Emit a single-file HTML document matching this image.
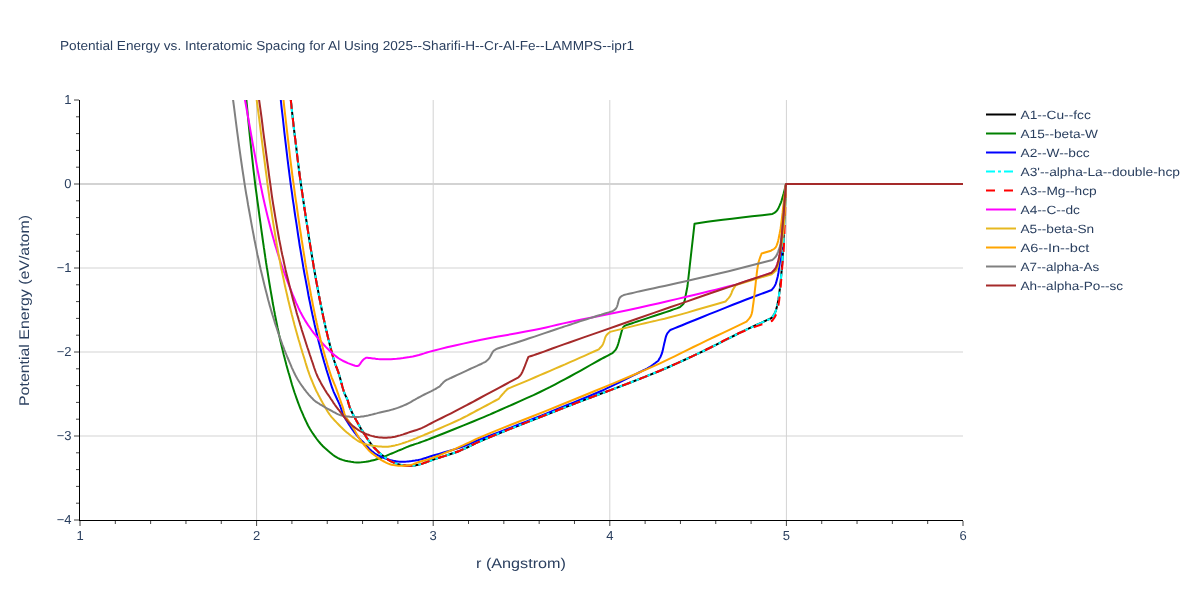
<!DOCTYPE html><html><head><meta charset="utf-8"><style>html,body{margin:0;padding:0;background:#fff;}svg{display:block;text-rendering:geometricPrecision;will-change:transform;font-family:"Liberation Sans",sans-serif;}</style></head><body>
<svg width="1200" height="600" viewBox="0 0 1200 600">
<rect width="1200" height="600" fill="#fff"/>
<line x1="256.6" y1="100" x2="256.6" y2="520" stroke="#d3d3d3" stroke-width="1"/>
<line x1="433.2" y1="100" x2="433.2" y2="520" stroke="#d3d3d3" stroke-width="1"/>
<line x1="609.8" y1="100" x2="609.8" y2="520" stroke="#d3d3d3" stroke-width="1"/>
<line x1="786.4" y1="100" x2="786.4" y2="520" stroke="#d3d3d3" stroke-width="1"/>
<line x1="80" y1="268.0" x2="963" y2="268.0" stroke="#d3d3d3" stroke-width="1"/>
<line x1="80" y1="352.0" x2="963" y2="352.0" stroke="#d3d3d3" stroke-width="1"/>
<line x1="80" y1="436.0" x2="963" y2="436.0" stroke="#d3d3d3" stroke-width="1"/>
<line x1="80" y1="184.0" x2="963" y2="184.0" stroke="#d3d3d3" stroke-width="2"/>
<clipPath id="cp"><rect x="80" y="100" width="883" height="420"/></clipPath><g clip-path="url(#cp)" fill="none" stroke-linejoin="round">
<polyline points="290.0,90.0 290.1,91.6 290.2,93.0 290.3,94.4 290.4,96.0 290.6,97.8 290.8,100.0 291.7,108.3 292.9,119.5 294.4,132.6 296.1,146.1 297.6,159.0 299.0,170.0 299.9,176.8 300.8,183.3 301.7,189.6 302.6,195.4 303.3,200.5 304.0,205.0 304.3,207.0 304.5,208.6 304.7,210.1 305.0,211.6 305.2,213.1 305.5,215.0 306.0,218.6 306.7,222.7 307.4,227.2 308.1,231.7 308.7,236.1 309.4,240.0 309.8,242.7 310.2,245.3 310.6,247.7 311.0,250.1 311.4,252.5 311.8,255.0 312.2,257.4 312.6,259.8 313.0,262.2 313.4,264.6 313.8,267.2 314.3,270.0 315.1,274.5 316.0,279.6 317.0,285.0 318.0,290.4 319.0,295.5 319.8,300.0 320.4,302.8 320.9,305.4 321.4,307.8 321.9,310.2 322.4,312.6 322.9,315.0 323.4,317.5 324.0,320.0 324.5,322.5 325.1,325.0 325.6,327.5 326.2,330.0 326.8,332.5 327.4,335.0 328.0,337.5 328.6,340.0 329.3,342.5 329.9,345.0 330.5,347.5 331.2,350.0 331.8,352.5 332.5,355.0 333.2,357.5 333.9,360.0 334.8,362.5 335.6,365.0 336.5,367.4 337.5,369.9 338.4,372.4 339.2,375.0 340.0,377.8 340.8,380.8 341.6,383.8 342.4,386.8 343.2,389.5 344.0,392.0 344.6,393.5 345.2,394.9 345.8,396.2 346.4,397.4 347.0,398.7 347.5,400.0 348.0,401.3 348.3,402.6 348.7,404.0 349.1,405.3 349.5,406.6 350.0,408.0 350.7,409.6 351.5,411.3 352.3,413.0 353.2,414.7 354.1,416.4 355.0,418.0 355.8,419.5 356.6,421.1 357.5,422.6 358.3,424.1 359.2,425.5 360.0,427.0 360.8,428.4 361.6,429.7 362.5,431.1 363.3,432.4 364.2,433.7 365.0,435.0 365.8,436.3 366.6,437.6 367.5,438.8 368.3,440.1 369.1,441.3 370.0,442.5 370.8,443.6 371.6,444.6 372.5,445.6 373.3,446.6 374.1,447.6 375.0,448.5 375.8,449.3 376.6,450.1 377.4,450.9 378.2,451.7 379.0,452.5 380.0,453.3 381.4,454.5 383.0,455.8 384.7,457.2 386.5,458.5 388.2,459.7 390.0,460.8 391.6,461.6 393.3,462.4 394.9,463.1 396.6,463.6 398.3,464.2 400.0,464.6 401.6,465.0 403.3,465.3 405.0,465.5 406.7,465.7 408.3,465.8 410.0,465.8 411.7,465.7 413.3,465.6 415.0,465.4 416.7,465.1 418.3,464.8 420.0,464.4 421.6,463.9 423.2,463.4 424.7,462.8 426.3,462.2 428.0,461.5 430.0,460.8 434.1,459.4 439.0,457.8 444.4,456.1 449.9,454.3 455.2,452.5 460.0,450.7 463.4,449.2 466.5,447.8 469.4,446.3 472.5,444.8 475.9,443.1 480.0,441.3 490.1,437.0 502.3,432.0 516.1,426.6 530.7,420.8 545.5,415.0 560.0,409.3 576.5,402.9 594.0,396.3 611.8,389.6 629.2,383.0 645.5,376.6 660.0,370.7 668.7,367.0 676.8,363.4 684.3,360.0 691.5,356.7 698.5,353.3 705.5,350.0 711.6,347.0 717.4,344.1 723.1,341.2 728.8,338.3 734.4,335.5 740.0,332.7 745.3,330.2 750.6,327.7 755.9,325.2 761.2,322.8 766.4,320.4 771.7,318.0 772.3,317.1 772.8,316.3 773.4,315.5 774.0,314.6 774.5,313.7 775.0,312.7 775.6,311.3 776.1,309.9 776.5,308.3 776.9,306.7 777.3,305.0 777.7,303.3 778.1,301.3 778.5,299.2 778.8,297.0 779.1,294.7 779.4,292.4 779.7,290.0 780.1,286.9 780.4,283.6 780.8,280.3 781.1,276.8 781.4,273.4 781.7,270.0 782.0,266.8 782.2,263.8 782.4,260.7 782.6,257.5 782.8,254.0 783.0,250.0 783.5,241.2 783.9,230.8 784.4,219.4 785.0,207.4 785.5,195.4 786.0,184.0 963.0,184.0" stroke="#000000" stroke-width="2" />
<polyline points="245.7,90.0 245.8,91.6 245.9,93.0 246.0,94.4 246.1,96.0 246.2,97.8 246.4,100.0 247.2,108.3 248.2,119.5 249.5,132.6 250.9,146.1 252.3,159.0 253.5,170.0 254.3,176.5 255.0,182.6 255.7,188.3 256.5,193.8 257.2,199.3 258.0,205.0 258.8,211.0 259.6,217.2 260.5,223.4 261.3,229.4 262.1,235.0 262.8,240.0 263.2,242.9 263.6,245.5 263.9,247.9 264.3,250.2 264.6,252.6 265.0,255.0 265.3,257.4 265.7,259.8 266.0,262.2 266.4,264.6 266.8,267.2 267.3,270.0 268.0,274.5 268.8,279.6 269.7,285.0 270.6,290.4 271.5,295.5 272.3,300.0 272.7,302.8 273.2,305.4 273.7,307.8 274.1,310.2 274.6,312.6 275.0,315.0 275.5,317.5 276.0,320.0 276.5,322.5 277.0,325.0 277.5,327.5 278.1,330.0 278.6,332.5 279.1,335.0 279.7,337.5 280.2,340.0 280.8,342.5 281.4,345.0 282.0,347.5 282.6,350.0 283.2,352.5 283.8,355.0 284.5,357.5 285.1,360.0 285.8,362.5 286.4,365.0 287.1,367.5 287.8,370.0 288.5,372.5 289.3,375.0 290.0,377.5 290.7,380.0 291.4,382.5 292.1,385.0 292.9,387.5 293.7,390.0 294.5,392.5 295.4,395.0 296.3,397.6 297.2,400.1 298.1,402.6 299.0,405.0 299.9,407.3 300.8,409.6 301.8,411.9 302.8,414.2 303.7,416.4 304.7,418.5 305.5,420.3 306.4,422.1 307.2,423.8 308.0,425.5 309.0,427.2 310.0,429.0 311.4,431.3 313.0,433.7 314.7,436.1 316.4,438.5 318.2,440.9 320.0,443.0 321.6,444.8 323.2,446.5 324.9,448.1 326.6,449.6 328.3,451.1 330.0,452.5 331.6,453.8 333.1,455.0 334.7,456.1 336.4,457.2 338.1,458.1 340.0,459.0 342.5,459.9 345.3,460.7 348.1,461.3 351.1,461.8 354.0,462.2 356.7,462.4 359.0,462.4 361.3,462.3 363.6,462.1 365.8,461.8 367.9,461.4 370.0,461.0 371.8,460.6 373.5,460.2 375.1,459.8 376.7,459.3 378.4,458.8 380.0,458.3 381.7,457.7 383.4,457.0 385.0,456.3 386.7,455.6 388.3,454.9 390.0,454.2 391.7,453.5 393.3,452.8 395.0,452.1 396.7,451.4 398.3,450.7 400.0,450.0 401.7,449.3 403.3,448.6 405.0,447.8 406.7,447.1 408.3,446.5 410.0,445.8 411.7,445.2 413.3,444.7 415.0,444.1 416.7,443.6 418.3,443.1 420.0,442.5 421.6,441.9 423.1,441.4 424.5,440.9 426.1,440.3 427.9,439.6 430.0,438.8 436.4,436.2 444.7,433.0 454.0,429.2 463.6,425.4 472.5,421.8 480.0,418.7 483.8,417.1 487.1,415.7 490.2,414.4 493.2,413.0 496.4,411.6 500.0,410.0 505.9,407.4 512.6,404.5 519.5,401.4 526.6,398.2 533.5,395.1 540.0,392.0 545.3,389.4 550.4,386.9 555.3,384.3 560.2,381.7 565.1,379.1 570.0,376.5 575.1,373.7 580.3,370.8 585.5,367.9 590.5,365.0 595.2,362.3 599.4,360.0 601.9,358.7 604.1,357.5 606.3,356.3 608.3,355.3 610.4,354.2 612.5,353.1 613.1,352.4 613.8,351.8 614.4,351.1 615.1,350.4 615.7,349.6 616.2,348.8 617.0,347.2 617.7,345.4 618.3,343.5 618.9,341.4 619.4,339.4 620.0,337.5 620.5,335.7 621.0,333.8 621.5,331.9 622.0,330.2 622.5,328.7 623.1,327.5 623.4,327.1 623.7,326.7 624.0,326.4 624.4,326.2 624.7,325.9 625.0,325.6 627.4,324.8 629.8,324.0 632.2,323.2 634.6,322.4 637.2,321.5 640.0,320.6 644.6,319.1 649.8,317.4 655.4,315.5 660.8,313.8 665.8,312.1 670.0,310.7 671.9,310.0 673.6,309.4 675.2,308.9 676.7,308.4 678.1,307.8 679.7,307.3 680.4,306.7 681.1,306.1 681.8,305.4 682.5,304.8 683.2,304.1 683.7,303.3 684.2,302.2 684.6,300.9 684.9,299.6 685.2,298.1 685.4,296.7 685.7,295.3 686.0,293.8 686.3,292.3 686.6,290.7 686.9,289.1 687.2,287.6 687.5,286.0 694.5,223.8 697.8,223.3 700.9,222.8 704.1,222.3 707.4,221.8 711.0,221.3 715.0,220.8 722.9,219.8 732.0,218.7 741.8,217.5 752.1,216.3 762.4,215.2 772.3,214.0 773.0,213.6 773.7,213.2 774.4,212.8 775.0,212.4 775.7,211.9 776.3,211.3 777.1,210.4 777.8,209.2 778.5,208.0 779.1,206.7 779.7,205.4 780.3,204.0 781.0,202.3 781.6,200.6 782.1,198.8 782.7,196.9 783.2,195.1 783.7,193.3 784.1,191.7 784.5,190.2 784.9,188.6 785.3,187.1 785.6,185.5 786.0,184.0 963.0,184.0" stroke="#008000" stroke-width="2" />
<polyline points="279.9,90.0 280.1,91.6 280.2,93.0 280.3,94.4 280.5,96.0 280.6,97.8 280.8,100.0 281.7,108.3 283.0,119.5 284.4,132.6 286.0,146.1 287.5,159.0 288.9,170.0 289.7,176.5 290.5,182.6 291.3,188.3 292.1,193.8 292.8,199.3 293.7,205.0 294.5,211.0 295.4,217.2 296.4,223.4 297.3,229.4 298.1,235.0 298.9,240.0 299.3,242.9 299.7,245.5 300.1,247.9 300.5,250.2 300.9,252.6 301.3,255.0 301.7,257.4 302.1,259.8 302.5,262.2 302.9,264.6 303.3,267.2 303.8,270.0 304.6,274.5 305.6,279.6 306.6,285.0 307.6,290.4 308.5,295.5 309.4,300.0 310.0,302.8 310.5,305.4 311.0,307.8 311.5,310.2 312.0,312.6 312.5,315.0 313.1,317.5 313.6,320.0 314.2,322.5 314.7,325.0 315.3,327.5 315.9,330.0 316.5,332.5 317.1,335.0 317.7,337.5 318.3,340.0 318.9,342.5 319.6,345.0 320.2,347.5 320.9,350.0 321.5,352.5 322.2,355.0 322.9,357.5 323.6,360.0 324.3,362.5 325.1,365.0 325.8,367.5 326.5,370.0 327.3,372.5 328.1,375.0 328.9,377.5 329.7,380.1 330.5,382.7 331.3,385.2 332.1,387.7 333.0,390.0 333.7,391.8 334.5,393.6 335.3,395.3 336.1,397.0 336.8,398.5 337.5,400.0 338.0,401.0 338.4,401.9 338.8,402.8 339.2,403.7 339.6,404.6 340.0,405.5 340.4,406.6 340.8,407.8 341.2,409.0 341.7,410.2 342.1,411.4 342.5,412.5 342.9,413.5 343.3,414.4 343.7,415.2 344.1,416.1 344.5,417.0 345.0,418.0 345.7,419.3 346.5,420.6 347.4,422.0 348.2,423.3 349.1,424.7 350.0,426.0 350.8,427.2 351.6,428.4 352.5,429.6 353.3,430.7 354.1,431.9 355.0,433.0 355.8,434.0 356.6,435.1 357.5,436.1 358.3,437.1 359.1,438.1 360.0,439.0 360.8,439.9 361.7,440.7 362.5,441.5 363.3,442.3 364.2,443.2 365.0,444.0 365.8,444.9 366.7,445.9 367.5,446.8 368.3,447.7 369.1,448.7 370.0,449.5 370.8,450.2 371.6,451.0 372.5,451.6 373.3,452.3 374.1,452.9 375.0,453.5 375.8,454.0 376.6,454.5 377.4,454.9 378.2,455.4 379.1,455.8 380.0,456.2 381.5,456.9 383.1,457.6 384.8,458.3 386.5,458.9 388.3,459.5 390.0,460.0 391.7,460.4 393.3,460.8 395.0,461.1 396.7,461.4 398.3,461.6 400.0,461.7 401.7,461.8 403.3,461.8 405.0,461.7 406.7,461.6 408.3,461.4 410.0,461.2 411.7,461.1 413.3,460.8 415.0,460.6 416.7,460.3 418.3,460.0 420.0,459.6 421.6,459.2 423.1,458.7 424.7,458.2 426.3,457.7 428.0,457.1 430.0,456.5 434.1,455.3 439.0,453.9 444.4,452.3 449.9,450.7 455.2,449.1 460.0,447.5 463.5,446.2 466.7,445.0 469.8,443.7 473.0,442.4 476.3,441.0 480.0,439.5 485.9,437.2 492.3,434.7 499.1,432.1 506.2,429.4 513.2,426.7 520.0,424.0 526.7,421.4 533.3,418.7 540.0,416.1 546.7,413.4 553.3,410.7 560.0,408.0 566.8,405.2 573.9,402.4 580.9,399.5 587.7,396.7 594.1,394.0 600.0,391.5 603.8,389.8 607.2,388.2 610.5,386.7 613.6,385.1 616.8,383.6 620.0,382.0 623.4,380.3 626.9,378.6 630.4,376.8 633.8,375.1 637.1,373.5 640.0,372.0 641.9,371.1 643.6,370.2 645.3,369.4 646.9,368.6 648.5,367.7 650.0,366.8 651.5,365.8 652.9,364.8 654.2,363.8 655.6,362.8 656.9,361.7 658.3,360.7 658.9,359.6 659.5,358.5 660.1,357.5 660.7,356.4 661.2,355.2 661.7,354.0 662.2,352.4 662.7,350.6 663.1,348.8 663.5,346.9 663.9,345.1 664.3,343.3 664.7,341.7 665.1,340.0 665.5,338.3 665.9,336.7 666.4,335.3 667.0,334.0 667.5,333.2 668.0,332.5 668.6,331.9 669.2,331.2 669.7,330.6 670.3,330.0 674.3,328.4 678.3,326.8 682.2,325.2 686.2,323.5 690.5,321.8 695.0,320.0 701.8,317.3 709.3,314.2 717.1,311.1 725.1,307.9 732.8,304.8 740.0,302.0 745.6,299.8 751.0,297.8 756.2,295.8 761.3,293.9 766.5,292.0 771.7,290.0 772.3,289.2 772.8,288.5 773.4,287.8 774.0,287.0 774.5,286.2 775.0,285.3 775.6,284.1 776.1,282.7 776.5,281.3 776.9,279.8 777.3,278.3 777.7,276.7 778.1,274.6 778.5,272.5 778.8,270.2 779.1,267.9 779.4,265.6 779.7,263.3 780.0,261.2 780.4,259.2 780.7,257.3 781.0,255.2 781.4,252.8 781.7,250.0 782.4,241.9 783.1,231.7 783.9,220.1 784.6,207.9 785.3,195.6 786.0,184.0 963.0,184.0" stroke="#0000ff" stroke-width="2" />
<polyline points="290.0,90.0 290.1,91.6 290.2,93.0 290.3,94.4 290.4,96.0 290.6,97.8 290.8,100.0 291.7,108.3 292.9,119.5 294.4,132.6 296.1,146.1 297.6,159.0 299.0,170.0 299.9,176.8 300.8,183.3 301.7,189.6 302.6,195.4 303.3,200.5 304.0,205.0 304.3,207.0 304.5,208.6 304.7,210.1 305.0,211.6 305.2,213.1 305.5,215.0 306.0,218.6 306.7,222.7 307.4,227.2 308.1,231.7 308.7,236.1 309.4,240.0 309.8,242.7 310.2,245.3 310.6,247.7 311.0,250.1 311.4,252.5 311.8,255.0 312.2,257.4 312.6,259.8 313.0,262.2 313.4,264.6 313.8,267.2 314.3,270.0 315.1,274.5 316.0,279.6 317.0,285.0 318.0,290.4 319.0,295.5 319.8,300.0 320.4,302.8 320.9,305.4 321.4,307.8 321.9,310.2 322.4,312.6 322.9,315.0 323.4,317.5 324.0,320.0 324.5,322.5 325.1,325.0 325.6,327.5 326.2,330.0 326.8,332.5 327.4,335.0 328.0,337.5 328.6,340.0 329.3,342.5 329.9,345.0 330.5,347.5 331.2,350.0 331.8,352.5 332.5,355.0 333.2,357.5 333.9,360.0 334.8,362.5 335.6,365.0 336.5,367.4 337.5,369.9 338.4,372.4 339.2,375.0 340.0,377.8 340.8,380.8 341.6,383.8 342.4,386.8 343.2,389.5 344.0,392.0 344.6,393.5 345.2,394.9 345.8,396.2 346.4,397.4 347.0,398.7 347.5,400.0 348.0,401.3 348.3,402.6 348.7,404.0 349.1,405.3 349.5,406.6 350.0,408.0 350.7,409.6 351.5,411.3 352.3,413.0 353.2,414.7 354.1,416.4 355.0,418.0 355.8,419.5 356.6,421.1 357.5,422.6 358.3,424.1 359.2,425.5 360.0,427.0 360.8,428.4 361.6,429.7 362.5,431.1 363.3,432.4 364.2,433.7 365.0,435.0 365.8,436.3 366.6,437.6 367.5,438.8 368.3,440.1 369.1,441.3 370.0,442.5 370.8,443.6 371.6,444.6 372.5,445.6 373.3,446.6 374.1,447.6 375.0,448.5 375.8,449.3 376.6,450.1 377.4,450.9 378.2,451.7 379.0,452.5 380.0,453.3 381.4,454.5 383.0,455.8 384.7,457.2 386.5,458.5 388.2,459.7 390.0,460.8 391.6,461.6 393.3,462.4 394.9,463.1 396.6,463.6 398.3,464.2 400.0,464.6 401.6,465.0 403.3,465.3 405.0,465.5 406.7,465.7 408.3,465.8 410.0,465.8 411.7,465.7 413.3,465.6 415.0,465.4 416.7,465.1 418.3,464.8 420.0,464.4 421.6,463.9 423.2,463.4 424.7,462.8 426.3,462.2 428.0,461.5 430.0,460.8 434.1,459.4 439.0,457.8 444.4,456.1 449.9,454.3 455.2,452.5 460.0,450.7 463.4,449.2 466.5,447.8 469.4,446.3 472.5,444.8 475.9,443.1 480.0,441.3 490.1,437.0 502.3,432.0 516.1,426.6 530.7,420.8 545.5,415.0 560.0,409.3 576.5,402.9 594.0,396.3 611.8,389.6 629.2,383.0 645.5,376.6 660.0,370.7 668.7,367.0 676.8,363.4 684.3,360.0 691.5,356.7 698.5,353.3 705.5,350.0 711.6,347.0 717.4,344.1 723.1,341.2 728.8,338.3 734.4,335.5 740.0,332.7 745.3,330.2 750.6,327.7 755.9,325.2 761.2,322.8 766.4,320.4 771.7,318.0 772.3,317.1 772.8,316.3 773.4,315.5 774.0,314.6 774.5,313.7 775.0,312.7 775.6,311.3 776.1,309.9 776.5,308.3 776.9,306.7 777.3,305.0 777.7,303.3 778.1,301.3 778.5,299.2 778.8,297.0 779.1,294.7 779.4,292.4 779.7,290.0 780.1,286.9 780.4,283.6 780.8,280.3 781.1,276.8 781.4,273.4 781.7,270.0 782.0,266.8 782.2,263.8 782.4,260.7 782.6,257.5 782.8,254.0 783.0,250.0 783.5,241.2 783.9,230.8 784.4,219.4 785.0,207.4 785.5,195.4 786.0,184.0 963.0,184.0" stroke="#00ffff" stroke-width="2" stroke-dasharray="9,3,3,3" stroke-dashoffset="5"/>
<polyline points="290.0,90.0 290.1,91.6 290.2,93.0 290.3,94.4 290.4,96.0 290.6,97.8 290.8,100.0 291.7,108.3 292.9,119.5 294.4,132.6 296.1,146.1 297.6,159.0 299.0,170.0 299.9,176.8 300.8,183.3 301.7,189.6 302.6,195.4 303.3,200.5 304.0,205.0 304.3,207.0 304.5,208.6 304.7,210.1 305.0,211.6 305.2,213.1 305.5,215.0 306.0,218.6 306.7,222.7 307.4,227.2 308.1,231.7 308.7,236.1 309.4,240.0 309.8,242.7 310.2,245.3 310.6,247.7 311.0,250.1 311.4,252.5 311.8,255.0 312.2,257.4 312.6,259.8 313.0,262.2 313.4,264.6 313.8,267.2 314.3,270.0 315.1,274.5 316.0,279.6 317.0,285.0 318.0,290.4 319.0,295.5 319.8,300.0 320.4,302.8 320.9,305.4 321.4,307.8 321.9,310.2 322.4,312.6 322.9,315.0 323.4,317.5 324.0,320.0 324.5,322.5 325.1,325.0 325.6,327.5 326.2,330.0 326.8,332.5 327.4,335.0 328.0,337.5 328.6,340.0 329.3,342.5 329.9,345.0 330.5,347.5 331.2,350.0 331.8,352.5 332.5,355.0 333.2,357.5 333.9,360.0 334.8,362.5 335.6,365.0 336.5,367.4 337.5,369.9 338.4,372.4 339.2,375.0 340.0,377.8 340.8,380.8 341.6,383.8 342.4,386.8 343.2,389.5 344.0,392.0 344.6,393.5 345.2,394.9 345.8,396.2 346.4,397.4 347.0,398.7 347.5,400.0 348.0,401.3 348.3,402.6 348.7,404.0 349.1,405.3 349.5,406.6 350.0,408.0 350.7,409.6 351.5,411.3 352.3,413.0 353.2,414.7 354.1,416.4 355.0,418.0 355.8,419.5 356.6,421.1 357.5,422.6 358.3,424.1 359.2,425.5 360.0,427.0 360.8,428.4 361.6,429.7 362.5,431.1 363.3,432.4 364.2,433.7 365.0,435.0 365.8,436.3 366.6,437.6 367.5,438.8 368.3,440.1 369.1,441.3 370.0,442.5 370.8,443.6 371.6,444.6 372.5,445.6 373.3,446.6 374.1,447.6 375.0,448.5 375.8,449.3 376.6,450.1 377.4,450.9 378.2,451.7 379.0,452.5 380.0,453.3 381.4,454.5 383.0,455.8 384.7,457.2 386.5,458.5 388.2,459.7 390.0,460.8 391.6,461.6 393.3,462.4 394.9,463.1 396.6,463.6 398.3,464.2 400.0,464.6 401.6,465.0 403.3,465.3 405.0,465.5 406.7,465.7 408.3,465.8 410.0,465.8 411.7,465.7 413.3,465.6 415.0,465.4 416.7,465.1 418.3,464.8 420.0,464.4 421.6,463.9 423.2,463.4 424.7,462.8 426.3,462.2 428.0,461.5 430.0,460.8 434.1,459.4 439.0,457.8 444.4,456.1 449.9,454.3 455.2,452.5 460.0,450.7 463.4,449.2 466.5,447.8 469.4,446.3 472.5,444.8 475.9,443.1 480.0,441.3 490.1,437.0 502.3,432.0 516.1,426.6 530.7,420.8 545.5,415.0 560.0,409.3 576.5,402.9 594.0,396.3 611.8,389.6 629.2,383.0 645.5,376.6 660.0,370.7 668.7,367.0 676.8,363.4 684.3,360.0 691.5,356.7 698.5,353.3 705.5,350.0 711.6,347.0 717.4,344.0 723.1,341.0 728.7,338.1 734.3,335.3 740.0,332.7 745.4,330.5 750.8,328.4 756.2,326.4 761.5,324.5 766.9,322.7 772.3,320.7 772.9,319.8 773.5,319.0 774.1,318.1 774.7,317.2 775.2,316.3 775.7,315.3 776.2,314.0 776.7,312.5 777.2,311.0 777.6,309.4 777.9,307.7 778.3,306.0 778.7,303.6 779.1,301.1 779.4,298.5 779.7,295.7 780.0,292.9 780.3,290.0 780.7,286.2 781.0,282.2 781.4,278.0 781.7,273.8 782.0,269.8 782.3,266.0 782.5,263.3 782.8,260.8 783.0,258.5 783.3,256.0 783.5,253.3 783.7,250.0 784.1,241.6 784.5,231.3 784.9,219.8 785.3,207.7 785.6,195.5 786.0,184.0 963.0,184.0" stroke="#ff0000" stroke-width="2" stroke-dasharray="9,9" stroke-dashoffset="8"/>
<polyline points="243.2,90.0 243.4,91.6 243.7,93.0 244.0,94.4 244.3,96.0 244.6,97.8 245.0,100.0 246.5,108.3 248.5,119.5 250.8,132.6 253.2,146.1 255.6,159.0 257.6,170.0 258.9,176.5 260.1,182.6 261.3,188.3 262.4,193.8 263.6,199.3 264.9,205.0 266.3,211.0 267.8,217.2 269.4,223.4 270.9,229.4 272.4,235.0 273.8,240.0 274.6,242.9 275.3,245.5 276.1,247.9 276.8,250.2 277.5,252.6 278.3,255.0 279.0,257.4 279.8,259.8 280.6,262.2 281.4,264.6 282.2,267.2 283.2,270.0 284.9,274.5 286.8,279.6 288.9,285.0 291.0,290.4 293.0,295.5 294.9,300.0 296.1,302.8 297.3,305.4 298.4,307.9 299.5,310.2 300.7,312.6 302.0,315.0 303.4,317.5 304.9,320.1 306.5,322.6 308.1,325.1 309.8,327.5 311.5,330.0 313.4,332.6 315.5,335.2 317.6,337.8 319.7,340.3 321.9,342.7 324.0,345.0 325.8,346.9 327.7,348.8 329.6,350.7 331.4,352.4 333.2,354.0 335.0,355.5 336.4,356.6 337.7,357.6 339.0,358.5 340.4,359.4 341.8,360.2 343.3,361.0 345.5,362.0 347.9,363.1 350.5,364.1 353.0,365.0 355.1,365.7 356.7,366.0 357.1,366.0 357.5,366.0 357.8,365.9 358.1,365.8 358.4,365.8 358.7,365.7 359.5,364.7 360.3,363.6 361.0,362.5 361.8,361.4 362.6,360.5 363.3,359.7 363.8,359.3 364.2,358.9 364.7,358.6 365.1,358.3 365.6,358.0 366.0,357.7 366.6,357.7 367.3,357.8 367.9,357.8 368.5,357.9 369.2,357.9 370.0,358.0 371.4,358.2 372.9,358.4 374.6,358.6 376.3,358.9 378.1,359.1 380.0,359.2 382.5,359.3 385.2,359.3 388.0,359.3 390.9,359.2 393.8,359.0 396.7,358.8 399.9,358.4 403.1,358.0 406.4,357.5 409.6,357.0 412.8,356.4 416.0,355.7 418.9,355.0 421.5,354.2 424.2,353.4 426.9,352.5 429.9,351.6 433.3,350.7 439.7,349.1 447.0,347.3 455.0,345.5 463.3,343.6 471.7,341.7 480.0,340.0 488.9,338.2 498.1,336.5 507.4,334.9 516.7,333.3 525.6,331.6 534.0,330.0 540.3,328.7 546.1,327.4 551.7,326.1 557.4,324.8 563.4,323.4 570.0,322.0 580.4,319.8 591.9,317.5 604.1,315.0 616.4,312.5 628.6,310.0 640.0,307.5 649.7,305.3 659.1,303.2 668.4,301.0 677.5,298.9 686.4,296.8 695.0,294.7 702.2,293.0 709.1,291.3 715.9,289.6 722.6,287.9 729.2,286.3 736.0,284.6 771.7,272.7 772.4,271.9 773.1,271.2 773.8,270.5 774.5,269.7 775.1,268.9 775.7,268.0 776.3,266.9 776.7,265.8 777.2,264.6 777.6,263.3 777.9,262.0 778.3,260.7 778.7,259.2 779.0,257.6 779.4,256.1 779.7,254.3 780.0,252.3 780.3,250.0 781.2,242.3 782.1,232.2 783.1,220.5 784.1,208.1 785.0,195.7 786.0,184.0 963.0,184.0" stroke="#ff00ff" stroke-width="2" />
<polyline points="255.4,90.0 255.6,91.6 255.8,93.0 256.0,94.4 256.2,96.0 256.5,97.8 256.7,100.0 257.8,108.3 259.3,119.5 260.9,132.6 262.6,146.1 264.3,159.0 265.7,170.0 266.6,176.5 267.3,182.6 268.1,188.3 268.9,193.8 269.6,199.3 270.5,205.0 271.4,211.0 272.3,217.2 273.3,223.4 274.3,229.4 275.2,235.0 276.0,240.0 276.5,242.9 276.9,245.5 277.4,247.9 277.8,250.2 278.2,252.6 278.7,255.0 279.2,257.4 279.6,259.8 280.1,262.2 280.5,264.6 281.0,267.2 281.6,270.0 282.6,274.5 283.7,279.6 284.8,285.0 286.0,290.4 287.2,295.5 288.2,300.0 288.9,302.8 289.5,305.4 290.1,307.8 290.7,310.2 291.3,312.6 291.9,315.0 292.6,317.5 293.2,320.0 293.9,322.5 294.5,325.0 295.2,327.5 295.9,330.0 296.6,332.5 297.3,335.0 298.0,337.5 298.7,340.0 299.5,342.5 300.2,345.0 300.9,347.5 301.7,350.0 302.4,352.5 303.2,355.0 304.0,357.5 304.8,360.0 305.5,362.5 306.3,365.1 307.1,367.6 307.9,370.1 308.8,372.6 309.6,375.0 310.5,377.3 311.4,379.5 312.3,381.7 313.2,383.8 314.1,386.0 315.0,388.0 315.8,389.8 316.6,391.5 317.5,393.1 318.3,394.8 319.2,396.4 320.0,398.0 320.8,399.5 321.6,401.1 322.5,402.6 323.3,404.1 324.2,405.5 325.0,407.0 325.8,408.4 326.6,409.7 327.3,411.0 328.1,412.3 329.0,413.6 330.0,415.0 331.4,416.8 333.0,418.6 334.7,420.5 336.5,422.4 338.3,424.2 340.0,426.0 341.6,427.6 343.3,429.2 344.9,430.7 346.6,432.2 348.3,433.6 350.0,435.0 351.6,436.3 353.3,437.6 354.9,438.8 356.6,440.0 358.3,441.1 360.0,442.0 361.6,442.7 363.3,443.4 364.9,443.9 366.6,444.4 368.3,444.8 370.0,445.2 371.7,445.5 373.4,445.8 375.1,446.0 376.8,446.2 378.4,446.4 380.0,446.5 381.2,446.6 382.3,446.7 383.4,446.8 384.5,446.8 385.6,446.8 386.7,446.8 388.0,446.7 389.4,446.5 390.8,446.3 392.2,446.0 393.6,445.7 395.0,445.4 396.6,445.0 398.3,444.6 400.0,444.1 401.6,443.6 403.3,443.0 405.0,442.5 406.7,441.9 408.3,441.4 409.9,440.7 411.5,440.1 413.2,439.5 415.0,438.8 417.3,437.8 419.6,436.9 422.0,435.9 424.5,434.8 427.2,433.7 430.0,432.5 434.5,430.6 439.5,428.5 444.8,426.2 450.1,423.8 455.3,421.5 460.0,419.3 463.6,417.5 467.0,415.8 470.3,414.0 473.5,412.3 476.8,410.5 480.0,408.8 483.2,407.1 486.3,405.5 489.4,403.8 492.5,402.2 495.6,400.5 498.7,398.9 499.1,398.4 499.4,398.0 499.8,397.5 500.1,397.1 500.5,396.5 501.0,396.0 501.9,395.0 502.9,393.9 504.0,392.7 505.1,391.4 506.3,390.2 507.4,389.0 512.8,386.7 518.3,384.4 523.8,382.1 529.2,379.8 534.6,377.5 540.0,375.2 545.1,373.0 550.1,370.8 555.1,368.7 560.1,366.5 565.1,364.4 570.0,362.2 574.8,360.1 579.6,357.9 584.4,355.8 589.2,353.7 594.0,351.5 598.8,349.4 599.4,348.7 600.0,348.0 600.7,347.3 601.3,346.6 601.9,345.9 602.5,345.0 603.2,343.6 603.8,342.0 604.4,340.2 604.9,338.5 605.5,336.9 606.2,335.6 606.8,334.8 607.4,334.2 608.1,333.6 608.7,333.0 609.4,332.5 610.0,331.9 615.0,330.6 620.0,329.4 625.0,328.1 630.0,326.9 635.0,325.6 640.0,324.4 644.9,323.2 649.7,322.1 654.4,321.1 659.3,319.9 664.5,318.7 670.0,317.3 678.3,315.1 687.3,312.6 696.7,309.8 706.4,307.0 716.1,304.2 725.5,301.5 726.3,300.6 727.1,299.8 727.8,298.9 728.6,298.1 729.3,297.2 730.0,296.2 730.6,295.1 731.1,294.0 731.6,292.8 732.0,291.7 732.5,290.5 733.0,289.5 733.5,288.7 734.0,287.9 734.5,287.2 735.0,286.5 735.5,285.7 736.0,285.0 771.7,274.2 772.5,273.5 773.3,272.9 774.1,272.3 774.9,271.6 775.7,270.9 776.3,270.0 777.0,268.6 777.5,267.0 777.9,265.2 778.2,263.3 778.6,261.2 779.0,259.0 779.8,255.1 780.6,250.6 781.4,245.8 782.2,240.7 782.9,235.4 783.5,230.0 784.1,223.0 784.6,215.5 785.0,207.7 785.3,199.7 785.6,191.8 786.0,184.0 963.0,184.0" stroke="#e6b820" stroke-width="2" />
<polyline points="282.6,90.0 282.8,91.6 282.9,93.0 283.0,94.4 283.1,96.0 283.3,97.8 283.5,100.0 284.4,108.3 285.7,119.5 287.2,132.6 288.8,146.1 290.3,159.0 291.7,170.0 292.5,176.5 293.4,182.6 294.2,188.3 294.9,193.8 295.7,199.3 296.6,205.0 297.4,211.0 298.3,217.2 299.2,223.4 300.1,229.4 301.0,235.0 301.7,240.0 302.2,242.9 302.6,245.5 303.0,247.9 303.3,250.2 303.7,252.6 304.1,255.0 304.5,257.4 304.9,259.8 305.2,262.2 305.6,264.6 306.1,267.2 306.5,270.0 307.3,274.5 308.2,279.6 309.2,285.0 310.2,290.4 311.1,295.5 312.0,300.0 312.5,302.8 313.0,305.4 313.5,307.8 314.0,310.2 314.5,312.6 315.0,315.0 315.5,317.5 316.1,320.0 316.6,322.5 317.2,325.0 317.7,327.5 318.3,330.0 318.9,332.5 319.5,335.0 320.1,337.5 320.7,340.0 321.4,342.5 322.0,345.0 322.7,347.5 323.3,350.0 324.0,352.5 324.7,355.0 325.4,357.5 326.2,360.0 326.9,362.5 327.6,365.1 328.4,367.6 329.2,370.1 330.0,372.6 330.8,375.0 331.6,377.3 332.5,379.5 333.4,381.7 334.3,383.8 335.2,385.9 336.0,388.0 336.6,389.7 337.2,391.4 337.8,393.1 338.4,394.7 338.9,396.3 339.5,398.0 340.1,399.7 340.7,401.4 341.3,403.1 341.9,404.8 342.5,406.4 343.0,408.0 343.4,409.2 343.6,410.4 343.9,411.6 344.2,412.7 344.5,413.8 345.0,415.0 345.7,416.3 346.5,417.7 347.3,419.0 348.2,420.3 349.1,421.7 350.0,423.0 350.8,424.3 351.7,425.7 352.5,427.0 353.3,428.3 354.2,429.6 355.0,431.0 355.8,432.4 356.7,433.9 357.5,435.3 358.3,436.8 359.1,438.2 360.0,439.5 360.8,440.7 361.6,441.8 362.5,442.9 363.3,443.9 364.1,445.0 365.0,446.0 365.8,447.0 366.6,447.9 367.5,448.9 368.3,449.8 369.1,450.7 370.0,451.5 370.8,452.2 371.6,452.9 372.5,453.6 373.3,454.2 374.2,454.9 375.0,455.5 375.8,456.1 376.6,456.8 377.4,457.4 378.2,458.0 379.0,458.6 380.0,459.2 381.4,460.1 383.0,461.0 384.7,461.9 386.5,462.8 388.3,463.6 390.0,464.2 391.6,464.7 393.3,465.1 395.0,465.3 396.6,465.6 398.3,465.7 400.0,465.8 401.7,465.8 403.3,465.8 405.0,465.7 406.7,465.5 408.3,465.3 410.0,465.0 411.7,464.6 413.3,464.1 415.0,463.5 416.7,462.9 418.3,462.3 420.0,461.7 421.6,461.2 423.1,460.8 424.7,460.4 426.3,459.9 428.0,459.4 430.0,458.7 434.2,457.2 439.1,455.4 444.4,453.2 449.9,451.0 455.2,448.8 460.0,446.7 463.4,445.2 466.5,443.7 469.4,442.3 472.5,440.8 475.9,439.1 480.0,437.3 490.1,433.1 502.4,428.1 516.1,422.7 530.7,417.0 545.5,411.1 560.0,405.3 576.6,398.5 594.2,391.3 612.2,383.8 629.7,376.5 645.9,369.6 660.0,363.3 667.7,359.7 674.6,356.4 681.0,353.2 687.1,350.1 693.4,347.0 700.0,343.8 707.5,340.1 715.2,336.5 723.0,332.8 730.9,329.1 738.7,325.4 746.5,321.7 747.3,320.7 748.1,319.8 748.9,318.9 749.7,317.9 750.4,316.9 751.0,315.7 751.6,314.1 752.0,312.4 752.4,310.6 752.6,308.6 752.9,306.6 753.2,304.5 753.6,301.6 754.0,298.5 754.4,295.2 754.7,291.8 755.1,288.4 755.5,285.0 755.9,281.2 756.4,277.2 756.8,273.2 757.3,269.3 757.9,265.7 758.5,262.5 759.0,260.7 759.5,259.2 760.0,257.7 760.5,256.3 761.1,254.9 761.6,253.5 771.0,250.7 771.8,250.2 772.6,249.7 773.5,249.3 774.3,248.7 775.0,248.1 775.7,247.3 776.6,245.6 777.4,243.4 778.1,240.9 778.7,238.3 779.2,235.7 779.7,233.3 780.1,231.1 780.5,229.0 780.8,226.9 781.1,224.7 781.4,222.4 781.7,220.0 782.1,216.5 782.6,212.7 783.0,208.7 783.5,204.6 783.9,200.8 784.3,197.3 784.6,194.9 784.9,192.6 785.2,190.4 785.4,188.3 785.7,186.2 786.0,184.0 963.0,184.0" stroke="#ffa500" stroke-width="2" />
<polyline points="232.1,90.0 232.3,91.6 232.4,93.0 232.5,94.4 232.7,96.0 232.9,97.8 233.1,100.0 234.2,108.3 235.6,119.5 237.3,132.6 239.1,146.1 240.9,159.0 242.5,170.0 243.5,176.5 244.4,182.6 245.3,188.3 246.2,193.8 247.2,199.3 248.1,205.0 249.2,211.0 250.3,217.2 251.4,223.4 252.5,229.4 253.6,235.0 254.5,240.0 255.1,242.9 255.6,245.5 256.1,247.9 256.6,250.2 257.0,252.6 257.5,255.0 258.1,257.4 258.6,259.8 259.1,262.2 259.6,264.6 260.2,267.2 260.8,270.0 261.9,274.5 263.1,279.6 264.4,285.0 265.8,290.4 267.1,295.5 268.2,300.0 269.0,302.8 269.7,305.4 270.4,307.8 271.1,310.2 271.8,312.6 272.5,315.0 273.3,317.5 274.1,320.0 274.8,322.5 275.6,325.0 276.5,327.5 277.3,330.0 278.1,332.5 279.0,335.0 279.9,337.5 280.8,340.0 281.7,342.5 282.6,345.0 283.6,347.5 284.5,350.0 285.5,352.5 286.5,355.0 287.5,357.5 288.6,360.0 289.7,362.6 290.8,365.2 291.9,367.8 293.1,370.4 294.2,372.8 295.3,375.0 296.1,376.5 296.9,377.9 297.6,379.2 298.4,380.5 299.2,381.7 300.0,383.0 300.8,384.2 301.6,385.4 302.5,386.6 303.3,387.7 304.1,388.9 305.0,390.0 305.8,391.0 306.6,392.1 307.5,393.1 308.3,394.1 309.1,395.1 310.0,396.0 310.8,396.9 311.6,397.8 312.5,398.6 313.3,399.5 314.1,400.3 315.0,401.0 315.8,401.6 316.6,402.2 317.4,402.7 318.2,403.2 319.1,403.7 320.0,404.3 321.5,405.2 323.1,406.1 324.8,407.1 326.5,408.1 328.3,409.1 330.0,410.0 331.7,410.9 333.3,411.8 335.0,412.7 336.6,413.6 338.3,414.4 340.0,415.0 341.6,415.5 343.3,415.9 345.0,416.2 346.6,416.4 348.3,416.6 350.0,416.8 351.7,416.9 353.3,417.0 355.0,417.0 356.7,417.0 358.3,416.9 360.0,416.8 361.7,416.6 363.3,416.4 365.0,416.1 366.7,415.7 368.3,415.4 370.0,415.0 371.7,414.6 373.3,414.2 374.9,413.8 376.6,413.4 378.3,412.9 380.0,412.5 382.1,412.0 384.3,411.5 386.6,411.0 388.8,410.5 391.1,409.9 393.3,409.3 395.4,408.6 397.6,407.9 399.7,407.1 401.8,406.3 403.9,405.4 406.0,404.5 408.3,403.3 410.7,402.1 413.0,400.7 415.4,399.4 417.7,398.0 420.0,396.8 422.2,395.6 424.4,394.5 426.7,393.4 428.8,392.4 430.9,391.4 432.8,390.4 434.0,389.7 435.2,389.1 436.3,388.5 437.3,387.8 438.4,387.2 439.5,386.6 440.1,385.9 440.8,385.2 441.4,384.4 442.1,383.7 442.7,383.1 443.2,382.5 443.6,382.1 444.0,381.8 444.3,381.5 444.7,381.2 445.1,380.9 445.5,380.6 446.2,380.2 447.1,379.7 448.0,379.3 448.9,378.9 449.8,378.4 450.8,378.0 454.0,376.5 457.4,374.9 460.8,373.3 464.0,371.8 467.2,370.3 470.0,369.0 471.9,368.1 473.7,367.3 475.4,366.6 477.0,365.9 478.5,365.2 480.0,364.5 481.1,364.0 482.1,363.5 483.0,363.0 483.9,362.5 484.9,362.1 485.8,361.6 486.4,361.0 487.0,360.5 487.6,360.0 488.2,359.4 488.7,358.8 489.3,358.1 490.0,357.0 490.7,355.8 491.3,354.5 492.0,353.2 492.7,352.0 493.4,351.1 494.0,350.6 494.5,350.1 495.1,349.8 495.7,349.4 496.3,349.1 496.9,348.8 501.5,347.3 506.0,345.9 510.5,344.4 515.1,343.0 519.7,341.5 524.3,340.0 529.3,338.3 534.5,336.6 539.6,334.9 544.7,333.1 549.6,331.5 554.0,330.0 556.9,329.0 559.6,328.1 562.2,327.3 564.7,326.4 567.3,325.6 570.0,324.7 573.2,323.6 576.5,322.5 579.8,321.4 583.2,320.3 586.6,319.2 590.0,318.1 593.7,317.0 597.4,315.8 601.2,314.7 604.9,313.5 608.7,312.4 612.5,311.2 613.1,310.8 613.8,310.3 614.4,309.9 615.1,309.4 615.7,308.8 616.2,308.1 617.0,306.6 617.6,304.8 618.1,302.7 618.6,300.7 619.2,298.9 620.0,297.5 620.6,296.9 621.2,296.4 621.8,296.0 622.5,295.7 623.1,295.4 623.8,295.0 626.4,294.4 629.0,293.8 631.6,293.2 634.2,292.6 637.0,291.9 640.0,291.2 644.4,290.3 649.0,289.3 654.0,288.2 659.1,287.1 664.5,285.9 670.0,284.7 677.6,283.0 685.7,281.2 694.1,279.3 702.8,277.3 711.5,275.3 720.0,273.3 728.7,271.2 737.4,269.0 746.1,266.8 754.8,264.5 763.6,262.2 772.3,260.0 772.9,259.5 773.5,259.0 774.1,258.4 774.6,257.9 775.2,257.3 775.7,256.7 776.2,255.9 776.7,255.1 777.1,254.2 777.5,253.2 777.9,252.3 778.3,251.3 778.7,250.2 779.1,249.2 779.5,248.2 779.8,247.0 780.1,245.7 780.5,244.0 781.5,237.4 782.4,228.3 783.3,217.6 784.2,206.2 785.1,194.7 786.0,184.0 963.0,184.0" stroke="#808080" stroke-width="2" />
<polyline points="257.6,90.0 257.8,91.6 258.1,93.0 258.3,94.4 258.5,96.0 258.8,97.8 259.1,100.0 260.3,108.3 261.8,119.5 263.4,132.6 265.2,146.1 266.9,159.0 268.4,170.0 269.2,176.5 270.1,182.6 270.9,188.3 271.6,193.8 272.4,199.3 273.3,205.0 274.3,211.0 275.3,217.2 276.4,223.4 277.4,229.4 278.4,235.0 279.3,240.0 279.9,242.9 280.4,245.5 280.9,247.9 281.3,250.2 281.8,252.6 282.3,255.0 282.9,257.4 283.4,259.8 283.9,262.2 284.4,264.6 285.0,267.2 285.6,270.0 286.7,274.5 288.0,279.6 289.3,285.0 290.7,290.4 292.0,295.5 293.1,300.0 293.9,302.8 294.6,305.4 295.3,307.8 296.0,310.2 296.6,312.6 297.3,315.0 298.1,317.5 298.8,320.0 299.6,322.5 300.3,325.0 301.1,327.5 301.8,330.0 302.6,332.5 303.4,335.0 304.2,337.5 305.0,340.0 305.8,342.5 306.6,345.0 307.4,347.5 308.3,350.0 309.1,352.5 309.9,355.0 310.8,357.5 311.6,360.0 312.5,362.5 313.3,365.0 314.1,367.5 315.0,370.0 315.9,372.5 316.9,375.0 318.1,377.6 319.5,380.2 320.9,382.9 322.3,385.4 323.7,387.8 325.0,390.0 325.9,391.4 326.7,392.7 327.5,393.9 328.4,395.1 329.2,396.3 330.0,397.5 330.8,398.8 331.7,400.0 332.5,401.3 333.3,402.6 334.2,403.8 335.0,405.0 335.8,406.1 336.6,407.2 337.5,408.3 338.3,409.4 339.2,410.4 340.0,411.5 340.8,412.6 341.7,413.7 342.5,414.8 343.3,415.9 344.2,417.0 345.0,418.0 345.8,419.0 346.6,419.9 347.3,420.8 348.1,421.7 349.0,422.6 350.0,423.5 351.4,424.8 353.0,426.1 354.7,427.4 356.5,428.7 358.2,429.9 360.0,431.0 361.6,431.9 363.3,432.7 364.9,433.5 366.6,434.2 368.3,434.8 370.0,435.4 371.6,435.9 373.3,436.3 375.0,436.7 376.6,437.0 378.3,437.3 380.0,437.5 381.7,437.6 383.3,437.7 385.0,437.8 386.7,437.7 388.3,437.6 390.0,437.5 391.7,437.3 393.3,437.0 395.0,436.7 396.7,436.3 398.3,435.8 400.0,435.4 401.7,434.9 403.3,434.4 405.0,433.8 406.7,433.2 408.3,432.6 410.0,432.0 411.7,431.5 413.3,431.0 414.9,430.5 416.6,430.0 418.3,429.4 420.0,428.8 422.1,427.9 424.2,426.9 426.3,425.8 428.5,424.7 430.8,423.5 433.3,422.2 437.3,420.2 441.7,418.0 446.3,415.7 451.1,413.3 455.7,410.9 460.0,408.7 463.4,406.9 466.7,405.2 469.8,403.5 473.0,401.8 476.3,400.0 480.0,398.0 485.7,394.9 491.9,391.6 498.5,388.1 505.2,384.5 511.9,380.8 518.5,377.3 519.0,376.8 519.5,376.3 519.9,375.8 520.4,375.2 520.9,374.6 521.4,373.8 522.5,371.7 523.6,369.1 524.8,366.2 526.0,363.0 527.2,359.9 528.4,356.9 530.3,356.3 532.1,355.7 533.9,355.1 535.7,354.5 537.8,353.8 540.0,353.0 544.0,351.6 548.3,350.0 553.0,348.3 558.2,346.4 563.8,344.4 570.0,342.2 583.7,337.4 600.3,331.6 618.5,325.2 637.0,318.8 654.6,312.6 670.0,307.3 679.3,304.1 687.9,301.1 696.0,298.3 703.9,295.5 711.8,292.8 720.0,290.0 728.6,287.1 737.2,284.2 745.8,281.3 754.4,278.5 763.1,275.6 771.7,272.7 772.4,271.9 773.1,271.2 773.8,270.5 774.5,269.7 775.1,268.9 775.7,268.0 776.3,266.9 776.7,265.8 777.2,264.6 777.6,263.3 777.9,262.0 778.3,260.7 778.7,259.2 779.0,257.6 779.4,256.1 779.7,254.3 780.0,252.3 780.3,250.0 781.2,242.3 782.1,232.2 783.1,220.5 784.1,208.1 785.0,195.7 786.0,184.0 963.0,184.0" stroke="#a52a2a" stroke-width="2" />
</g>
<line x1="79.5" y1="100" x2="79.5" y2="520.5" stroke="#000" stroke-width="1"/>
<line x1="79" y1="520.5" x2="963" y2="520.5" stroke="#000" stroke-width="1"/>
<line x1="74" y1="100.0" x2="79" y2="100.0" stroke="#444" stroke-width="1"/>
<text x="71.5" y="104.1" text-anchor="end" font-size="13" fill="#2a3f5f">1</text>
<line x1="76" y1="116.8" x2="79" y2="116.8" stroke="#444" stroke-width="1"/>
<line x1="76" y1="133.6" x2="79" y2="133.6" stroke="#444" stroke-width="1"/>
<line x1="76" y1="150.4" x2="79" y2="150.4" stroke="#444" stroke-width="1"/>
<line x1="76" y1="167.2" x2="79" y2="167.2" stroke="#444" stroke-width="1"/>
<line x1="74" y1="184.0" x2="79" y2="184.0" stroke="#444" stroke-width="1"/>
<text x="71.5" y="188.1" text-anchor="end" font-size="13" fill="#2a3f5f">0</text>
<line x1="76" y1="200.8" x2="79" y2="200.8" stroke="#444" stroke-width="1"/>
<line x1="76" y1="217.6" x2="79" y2="217.6" stroke="#444" stroke-width="1"/>
<line x1="76" y1="234.4" x2="79" y2="234.4" stroke="#444" stroke-width="1"/>
<line x1="76" y1="251.2" x2="79" y2="251.2" stroke="#444" stroke-width="1"/>
<line x1="74" y1="268.0" x2="79" y2="268.0" stroke="#444" stroke-width="1"/>
<text x="71.5" y="272.1" text-anchor="end" font-size="13" fill="#2a3f5f">−1</text>
<line x1="76" y1="284.8" x2="79" y2="284.8" stroke="#444" stroke-width="1"/>
<line x1="76" y1="301.6" x2="79" y2="301.6" stroke="#444" stroke-width="1"/>
<line x1="76" y1="318.4" x2="79" y2="318.4" stroke="#444" stroke-width="1"/>
<line x1="76" y1="335.2" x2="79" y2="335.2" stroke="#444" stroke-width="1"/>
<line x1="74" y1="352.0" x2="79" y2="352.0" stroke="#444" stroke-width="1"/>
<text x="71.5" y="356.1" text-anchor="end" font-size="13" fill="#2a3f5f">−2</text>
<line x1="76" y1="368.8" x2="79" y2="368.8" stroke="#444" stroke-width="1"/>
<line x1="76" y1="385.6" x2="79" y2="385.6" stroke="#444" stroke-width="1"/>
<line x1="76" y1="402.4" x2="79" y2="402.4" stroke="#444" stroke-width="1"/>
<line x1="76" y1="419.2" x2="79" y2="419.2" stroke="#444" stroke-width="1"/>
<line x1="74" y1="436.0" x2="79" y2="436.0" stroke="#444" stroke-width="1"/>
<text x="71.5" y="440.1" text-anchor="end" font-size="13" fill="#2a3f5f">−3</text>
<line x1="76" y1="452.8" x2="79" y2="452.8" stroke="#444" stroke-width="1"/>
<line x1="76" y1="469.6" x2="79" y2="469.6" stroke="#444" stroke-width="1"/>
<line x1="76" y1="486.40000000000003" x2="79" y2="486.40000000000003" stroke="#444" stroke-width="1"/>
<line x1="76" y1="503.20000000000005" x2="79" y2="503.20000000000005" stroke="#444" stroke-width="1"/>
<line x1="74" y1="520.0" x2="79" y2="520.0" stroke="#444" stroke-width="1"/>
<text x="71.5" y="524.1" text-anchor="end" font-size="13" fill="#2a3f5f">−4</text>
<line x1="80.0" y1="521" x2="80.0" y2="526" stroke="#444" stroke-width="1"/>
<text x="80.0" y="540.4" text-anchor="middle" font-size="13" fill="#2a3f5f">1</text>
<line x1="115.32" y1="521" x2="115.32" y2="524" stroke="#444" stroke-width="1"/>
<line x1="150.64" y1="521" x2="150.64" y2="524" stroke="#444" stroke-width="1"/>
<line x1="185.96" y1="521" x2="185.96" y2="524" stroke="#444" stroke-width="1"/>
<line x1="221.28000000000003" y1="521" x2="221.28000000000003" y2="524" stroke="#444" stroke-width="1"/>
<line x1="256.6" y1="521" x2="256.6" y2="526" stroke="#444" stroke-width="1"/>
<text x="256.6" y="540.4" text-anchor="middle" font-size="13" fill="#2a3f5f">2</text>
<line x1="291.92" y1="521" x2="291.92" y2="524" stroke="#444" stroke-width="1"/>
<line x1="327.24000000000007" y1="521" x2="327.24000000000007" y2="524" stroke="#444" stroke-width="1"/>
<line x1="362.56000000000006" y1="521" x2="362.56000000000006" y2="524" stroke="#444" stroke-width="1"/>
<line x1="397.88" y1="521" x2="397.88" y2="524" stroke="#444" stroke-width="1"/>
<line x1="433.2" y1="521" x2="433.2" y2="526" stroke="#444" stroke-width="1"/>
<text x="433.2" y="540.4" text-anchor="middle" font-size="13" fill="#2a3f5f">3</text>
<line x1="468.52000000000004" y1="521" x2="468.52000000000004" y2="524" stroke="#444" stroke-width="1"/>
<line x1="503.84000000000003" y1="521" x2="503.84000000000003" y2="524" stroke="#444" stroke-width="1"/>
<line x1="539.1600000000001" y1="521" x2="539.1600000000001" y2="524" stroke="#444" stroke-width="1"/>
<line x1="574.48" y1="521" x2="574.48" y2="524" stroke="#444" stroke-width="1"/>
<line x1="609.8" y1="521" x2="609.8" y2="526" stroke="#444" stroke-width="1"/>
<text x="609.8" y="540.4" text-anchor="middle" font-size="13" fill="#2a3f5f">4</text>
<line x1="645.1200000000001" y1="521" x2="645.1200000000001" y2="524" stroke="#444" stroke-width="1"/>
<line x1="680.44" y1="521" x2="680.44" y2="524" stroke="#444" stroke-width="1"/>
<line x1="715.76" y1="521" x2="715.76" y2="524" stroke="#444" stroke-width="1"/>
<line x1="751.0800000000002" y1="521" x2="751.0800000000002" y2="524" stroke="#444" stroke-width="1"/>
<line x1="786.4" y1="521" x2="786.4" y2="526" stroke="#444" stroke-width="1"/>
<text x="786.4" y="540.4" text-anchor="middle" font-size="13" fill="#2a3f5f">5</text>
<line x1="821.72" y1="521" x2="821.72" y2="524" stroke="#444" stroke-width="1"/>
<line x1="857.0400000000001" y1="521" x2="857.0400000000001" y2="524" stroke="#444" stroke-width="1"/>
<line x1="892.3600000000001" y1="521" x2="892.3600000000001" y2="524" stroke="#444" stroke-width="1"/>
<line x1="927.6800000000001" y1="521" x2="927.6800000000001" y2="524" stroke="#444" stroke-width="1"/>
<line x1="963.0" y1="521" x2="963.0" y2="526" stroke="#444" stroke-width="1"/>
<text x="963.0" y="540.4" text-anchor="middle" font-size="13" fill="#2a3f5f">6</text>
<text x="60" y="50" font-size="13" textLength="574" lengthAdjust="spacingAndGlyphs" fill="#2a3f5f">Potential Energy vs. Interatomic Spacing for Al Using 2025--Sharifi-H--Cr-Al-Fe--LAMMPS--ipr1</text>
<text x="476" y="568" font-size="14" textLength="90" lengthAdjust="spacingAndGlyphs" fill="#2a3f5f">r (Angstrom)</text>
<text transform="translate(29,406) rotate(-90)" font-size="14" textLength="191" lengthAdjust="spacingAndGlyphs" fill="#2a3f5f">Potential Energy (eV/atom)</text>
<line x1="986" y1="114.5" x2="1016" y2="114.5" stroke="#000000" stroke-width="2" />
<text x="1020.5" y="119.0" font-size="12" textLength="70.3" lengthAdjust="spacingAndGlyphs" fill="#2a3f5f">A1--Cu--fcc</text>
<line x1="986" y1="133.5" x2="1016" y2="133.5" stroke="#008000" stroke-width="2" />
<text x="1020.5" y="138.0" font-size="12" textLength="77.5" lengthAdjust="spacingAndGlyphs" fill="#2a3f5f">A15--beta-W</text>
<line x1="986" y1="152.5" x2="1016" y2="152.5" stroke="#0000ff" stroke-width="2" />
<text x="1020.5" y="157.0" font-size="12" textLength="69.2" lengthAdjust="spacingAndGlyphs" fill="#2a3f5f">A2--W--bcc</text>
<line x1="986" y1="171.5" x2="1016" y2="171.5" stroke="#00ffff" stroke-width="2" stroke-dasharray="9,3,3,3"/>
<text x="1020.5" y="176.0" font-size="12" textLength="159.5" lengthAdjust="spacingAndGlyphs" fill="#2a3f5f">A3'--alpha-La--double-hcp</text>
<line x1="986" y1="190.5" x2="1016" y2="190.5" stroke="#ff0000" stroke-width="2" stroke-dasharray="9,9"/>
<text x="1020.5" y="195.0" font-size="12" textLength="76.2" lengthAdjust="spacingAndGlyphs" fill="#2a3f5f">A3--Mg--hcp</text>
<line x1="986" y1="209.5" x2="1016" y2="209.5" stroke="#ff00ff" stroke-width="2" />
<text x="1020.5" y="214.0" font-size="12" textLength="59.5" lengthAdjust="spacingAndGlyphs" fill="#2a3f5f">A4--C--dc</text>
<line x1="986" y1="228.5" x2="1016" y2="228.5" stroke="#e6b820" stroke-width="2" />
<text x="1020.5" y="233.0" font-size="12" textLength="73.7" lengthAdjust="spacingAndGlyphs" fill="#2a3f5f">A5--beta-Sn</text>
<line x1="986" y1="247.5" x2="1016" y2="247.5" stroke="#ffa500" stroke-width="2" />
<text x="1020.5" y="252.0" font-size="12" textLength="68.7" lengthAdjust="spacingAndGlyphs" fill="#2a3f5f">A6--In--bct</text>
<line x1="986" y1="266.5" x2="1016" y2="266.5" stroke="#808080" stroke-width="2" />
<text x="1020.5" y="271.0" font-size="12" textLength="78.7" lengthAdjust="spacingAndGlyphs" fill="#2a3f5f">A7--alpha-As</text>
<line x1="986" y1="285.5" x2="1016" y2="285.5" stroke="#a52a2a" stroke-width="2" />
<text x="1020.5" y="290.0" font-size="12" textLength="102.5" lengthAdjust="spacingAndGlyphs" fill="#2a3f5f">Ah--alpha-Po--sc</text>
</svg></body></html>
